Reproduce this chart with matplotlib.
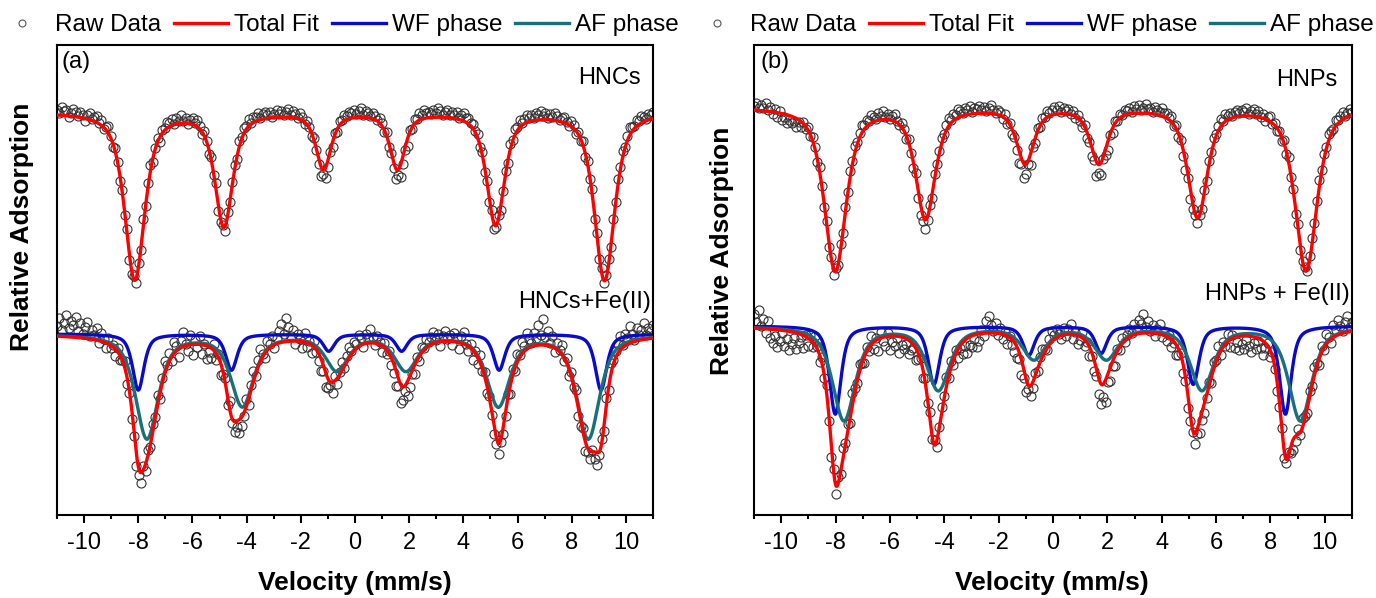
import numpy as np
import matplotlib
matplotlib.use('Agg')
import matplotlib.pyplot as plt
from matplotlib.lines import Line2D
from matplotlib.ticker import MultipleLocator

plt.rcParams['font.family'] = ['Liberation Sans', 'DejaVu Sans']
plt.rcParams['axes.unicode_minus'] = False

# ---- fitted sextet parameters (mm/s, relative depth) ----
# panel (a) HNCs
hncs_base = 1.000
hncs_pos = [-8.13, -4.84, -1.16, 1.57, 5.19, 9.21]
hncs_depth = [0.167, 0.113, 0.056, 0.056, 0.112, 0.168]
hncs_width = [0.88, 0.78, 0.66, 0.66, 0.78, 0.88]

# panel (a) HNCs + Fe(II)
hncs_fe_base = 0.778
hncs_fe_wf_pos = [-8.00, -4.56, -0.97, 1.72, 5.32, 9.08]
hncs_fe_wf_depth = [0.056, 0.036, 0.017, 0.017, 0.036, 0.056]
hncs_fe_wf_width = [0.50, 0.50, 0.50, 0.50, 0.50, 0.50]
hncs_fe_af_pos = [-7.68, -4.16, -0.67, 1.88, 5.29, 8.61]
hncs_fe_af_depth = [0.104, 0.071, 0.035, 0.035, 0.071, 0.104]
hncs_fe_af_width = [1.00, 1.00, 1.00, 1.00, 1.00, 1.00]

# panel (b) HNPs
hnps_base = 1.005
hnps_pos = [-8.01, -4.69, -1.02, 1.69, 5.32, 9.31]
hnps_depth = [0.163, 0.110, 0.055, 0.055, 0.109, 0.163]
hnps_width = [0.95, 0.85, 0.75, 0.75, 0.85, 0.95]

# panel (b) HNPs + Fe(II)
hnps_fe_base = 0.786
hnps_fe_wf_pos = [-8.01, -4.38, -0.895, 1.77, 5.16, 8.55]
hnps_fe_wf_depth = [0.088, 0.058, 0.029, 0.027, 0.058, 0.088]
hnps_fe_wf_width = [0.50, 0.50, 0.50, 0.50, 0.50, 0.50]
hnps_fe_af_pos = [-7.69, -4.22, -0.70, 1.96, 5.48, 9.10]
hnps_fe_af_depth = [0.094, 0.063, 0.032, 0.032, 0.063, 0.094]
hnps_fe_af_width = [1.00, 1.00, 1.00, 1.00, 1.00, 1.00]

# lorentzian fraction of the line shape
eta = 0.65

# ---- raw data: deviation of each channel from the fit (x 0.001, up = +) ----
hncs_resid = [
    5, 2, 8, 4, 6, -1, 3, 7, 5, 1, 6, 3, -2, 4, 7, 2,
    4, 6, 1, 5, -2, 3, 7, 2, -3, 4, 1, -4, 3, -2, 5, -5,
    -3, 4, -6, 2, -4, 5, -2, 3, 6, -3, 1, 4, -5, 3, 2, 6,
    4, 7, 1, 6, 3, 8, 2, 5, -1, 4, 6, 2, 7, 3, -2, 5,
    1, -4, 3, -2, 5, -6, -3, 2, -5, 4, -1, 3, 5, -2, 6, 2,
    5, 3, 7, 1, 6, 4, 8, 2, 5, 7, 3, 6, 1, 4, 7, 3,
    6, 2, 5, 8, 3, 7, 4, 1, 6, 3, -2, 4, 1, -3, 2, -1,
    -5, -9, -4, -11, -7, -2, -6, 1, -3, 4, 2, 6, 3, 7, 5, 8,
    4, 6, 9, 3, 7, 5, 2, 6, 4, 1, 5, 3, -2, 4, -4, -1,
    -6, -10, -5, -12, -8, -3, -7, 2, -2, 5, 3, 7, 4, 8, 5, 6,
    3, 7, 4, 9, 6, 2, 5, 8, 3, 6, 4, 7, 2, 5, 8, 4,
    6, 3, 5, 1, 4, -2, 3, -4, 2, -3, 4, -5, -2, 3, -6, -3,
    2, -4, 5, 1, 6, 3, 7, 2, 5, 8, 4, 6, 3, 7, 5, 9,
    4, 7, 2, 6, 3, 8, 5, 1, 4, 6, 2, -1, 5, 3, -3, 2,
    -2, 4, -4, 3, -1, 5, -5, 2, -3, 4, -2, 3, 6, -1, 5, 2,
    6, 3, 7, 1, 5, 8, 4, 2, 6, 3, 7, 5, 2, 6, 4, 7]
hnps_resid = [
    4, 7, 2, 6, 3, 8, 1, 5, -2, 3, -4, 2, -6, -3, -8, -5,
    -7, -4, -9, -2, -6, 1, -3, 3, -1, 4, 2, -3, 5, 1, -2, 3,
    -4, 2, -6, 3, -2, 5, -3, 4, 1, 6, 3, 7, 2, 5, 8, 4,
    6, 3, 8, 5, 2, 7, 4, 9, 3, 6, 1, 5, 7, 2, -1, 4,
    2, -3, 4, -1, -5, 3, -8, -11, -6, -9, -3, 2, -4, 5, 1, 3,
    6, 2, 5, 8, 3, 7, 4, 9, 6, 3, 7, 5, 8, 2, 6, 4,
    7, 3, 6, 2, 5, 8, 4, 1, 5, 3, -2, 4, -3, 1, -5, -2,
    -8, -13, -6, -15, -10, -4, -12, -2, -6, 3, -1, 4, 2, 6, 3, 5,
    7, 4, 8, 2, 6, 3, 5, 1, 4, -2, 3, -1, -4, 2, -6, -3,
    -9, -5, -14, -8, -12, -3, -7, -10, -2, -5, 2, -1, 4, 1, 5, 3,
    6, 2, 7, 4, 8, 3, 5, 9, 4, 6, 2, 7, 5, 3, 8, 4,
    5, 2, 6, -1, 3, -3, 1, -6, -9, -4, -11, -7, -2, -5, 1, -3,
    3, -2, 4, 1, 6, 2, 5, 8, 3, 7, 4, 6, 2, 5, 7, 3,
    6, 4, 8, 2, 5, 7, 3, 6, 1, 4, -2, 3, 5, -1, 2, -3,
    1, -4, 3, -2, 5, -1, 2, -5, 4, -3, 1, 3, -2, 4, 6, 2,
    5, 8, 3, 6, 2, 7, 4, 1, 6, 3, 5, 8, 2, 4, 7, 3]
hncs_fe_resid = [
    10, 18, 6, 14, 22, 9, 16, 12, 20, 7, 15, 4, 11, 17, 3, 9,
    5, 12, -2, 8, 3, -5, 6, -3, 2, -7, 4, -4, 1, 7, -6, -2,
    -9, -4, -12, -6, -10, 3, -8, 5, -3, 8, 2, 11, -5, 6, 14, 3,
    9, -4, 12, 5, -8, 7, 15, 2, -6, 10, -11, 4, -3, 8, -9, 1,
    -13, -5, -10, 6, -7, 3, -12, -2, 5, -8, 9, -4, -11, -6, -14, -9,
    -3, 8, -6, 5, 11, -2, 7, 13, 3, -5, 9, 4, 10, -3, 6, 12,
    18, 8, 24, 14, 5, 11, -3, 7, 2, -6, 9, -4, 3, -8, 6, -2,
    -7, -12, -5, -14, -9, -3, -11, 4, -6, 2, 8, -2, 6, 11, 3, 9,
    5, 12, 7, -3, 9, 4, 14, 6, -2, 8, 3, -6, 5, -4, 2, -7,
    -10, -16, -8, -19, -13, -6, -15, -11, -4, -9, 3, -5, 6, 2, 9, 4,
    7, 11, 3, 8, -4, 5, 10, 2, 6, -3, 9, 4, -6, 7, 12, 1,
    -5, 4, -9, 3, -6, 8, -2, 5, -7, 2, -4, -9, -6, -11, -3, -8,
    -5, 3, -9, 6, -3, 8, 2, 12, 5, 16, 9, 4, 13, 7, 20, 10,
    26, 8, 15, 3, 11, -4, 7, 2, 9, -3, 5, -7, 4, -2, 6, -9,
    -6, 3, -10, -4, -8, 2, -7, -12, -3, 5, -5, 8, -2, 11, 4, 7,
    9, 14, 3, 12, 6, 17, 8, 2, 13, 5, 10, 16, 4, 11, 7, 13]
hnps_fe_resid = [
    14, 6, 18, 3, 10, -4, 8, -9, -14, -6, -17, -11, -3, -15, -8, -19,
    -12, -6, -16, -9, -3, -13, 2, -8, 5, -5, 9, 3, -7, 6, -2, 8,
    -4, -11, 3, -8, 6, -3, 10, 2, 7, -5, 12, 4, -2, 8, 1, -6,
    5, -3, 9, -7, 2, -12, 6, -4, -9, 3, -14, -6, -10, -2, -16, -8,
    -11, -5, -14, -8, -3, -12, -6, 2, -9, 4, -4, 7, -2, 5, -7, 1,
    6, 3, 10, -2, 7, -5, 4, -9, -3, -12, -6, -15, -8, -11, -4, -13,
    -7, 4, -3, 12, 17, 8, 2, 10, -2, 6, -5, 3, -8, 1, -6, -10,
    -12, -7, -16, -9, -13, -4, -10, -6, 2, -3, 5, 8, 3, -2, 6, 11,
    4, 9, 2, -4, 7, -2, 5, 10, -5, 3, -8, -3, 6, -6, 1, -9,
    -4, -11, -7, -16, -20, -13, -22, -9, -14, -5, -10, 2, -3, 6, -1, 4,
    8, 3, 11, 5, 14, 9, 19, 6, 12, 2, 8, -3, 5, 10, -2, 4,
    -5, 3, -8, -2, -11, -6, 2, -9, -4, -13, -7, -3, -10, -5, -12, -8,
    -9, -3, 4, -6, 7, 2, 10, -4, 5, -2, 8, -7, 3, -11, -5, -14,
    -8, -13, -4, -10, -16, -6, -12, -3, -9, -14, -5, 2, -7, 4, -3, -10,
    -6, -2, -9, -4, 3, -7, -11, -5, 6, -3, 9, 2, -6, 5, -1, 8,
    3, -6, 7, -2, 10, 4, -4, 12, 6, 15, 8, 2, 11, 16, 5, 9]

red = '#FF0000'
blue = '#0A0ACC'
teal = '#17707C'


def sextet(v, pos, depth, width):
    # sum of six pseudo-Voigt absorption lines
    out = np.zeros_like(v)
    for p, d, w in zip(pos, depth, width):
        z = (v - p) / (w / 2.0)
        lor = 1.0 / (1.0 + z ** 2)
        gau = np.exp(-np.log(2) * z ** 2)
        out += d * (eta * lor + (1 - eta) * gau)
    return out


v_fit = np.linspace(-11, 11, 1200)

fig = plt.figure(figsize=(13.76, 5.98), dpi=100)
ax_a = fig.add_axes([57 / 1376, 83 / 598, 596 / 1376, 470 / 598])
ax_b = fig.add_axes([754 / 1376, 83 / 598, 598 / 1376, 470 / 598])

panels = [
    (ax_a, hncs_base, (hncs_pos, hncs_depth, hncs_width), hncs_resid,
     hncs_fe_base, (hncs_fe_wf_pos, hncs_fe_wf_depth, hncs_fe_wf_width),
     (hncs_fe_af_pos, hncs_fe_af_depth, hncs_fe_af_width), hncs_fe_resid),
    (ax_b, hnps_base, (hnps_pos, hnps_depth, hnps_width), hnps_resid,
     hnps_fe_base, (hnps_fe_wf_pos, hnps_fe_wf_depth, hnps_fe_wf_width),
     (hnps_fe_af_pos, hnps_fe_af_depth, hnps_fe_af_width), hnps_fe_resid),
]

for ax, b1, p1, r1, b2, wf, af, r2 in panels:
    # upper spectrum (single sextet)
    v_raw = np.linspace(-11, 11, len(r1))
    raw1 = b1 - sextet(v_raw, *p1) + np.array(r1) / 1000.0
    ax.plot(v_raw, raw1, 'o', mfc='none', mec='#333333', mew=0.8, ms=6.5, zorder=1)
    ax.plot(v_fit, b1 - sextet(v_fit, *p1), color=red, lw=2.4, zorder=4)

    # lower spectrum (WF + AF)
    v_raw = np.linspace(-11, 11, len(r2))
    raw2 = b2 - sextet(v_raw, *wf) - sextet(v_raw, *af) + np.array(r2) / 1000.0
    ax.plot(v_raw, raw2, 'o', mfc='none', mec='#333333', mew=0.8, ms=6.5, zorder=1)
    wf_fit = sextet(v_fit, *wf)
    af_fit = sextet(v_fit, *af)
    ax.plot(v_fit, b2 - wf_fit, color=blue, lw=2.4, zorder=2)
    ax.plot(v_fit, b2 - af_fit, color=teal, lw=2.4, zorder=3)
    ax.plot(v_fit, b2 - wf_fit - af_fit, color=red, lw=2.4, zorder=4)

    ax.set_xlim(-11, 11)
    ax.set_ylim(0.597, 1.067)
    ax.xaxis.set_major_locator(MultipleLocator(2))
    ax.xaxis.set_minor_locator(MultipleLocator(1))
    ax.set_yticks([])
    ax.tick_params(axis='x', which='major', direction='out', length=5.5, width=1.5,
                   labelsize=17, pad=7, top=False)
    ax.tick_params(axis='x', which='minor', direction='out', length=3, width=1.5, top=False)
    for s in ax.spines.values():
        s.set_linewidth(1.5)

# annotations
ax_a.text(0.032, 0.964, '(a)', transform=ax_a.transAxes, ha='center', va='center', fontsize=17)
ax_a.text(0.980, 0.930, 'HNCs', transform=ax_a.transAxes, ha='right', va='center', fontsize=17)
ax_a.text(0.9966, 0.453, 'HNCs+Fe(II)', transform=ax_a.transAxes, ha='right', va='center', fontsize=17)
ax_b.text(0.035, 0.964, '(b)', transform=ax_b.transAxes, ha='center', va='center', fontsize=17)
ax_b.text(0.975, 0.926, 'HNPs', transform=ax_b.transAxes, ha='right', va='center', fontsize=17)
ax_b.text(0.9967, 0.470, 'HNPs + Fe(II)', transform=ax_b.transAxes, ha='right', va='center', fontsize=17)

# axis labels
for xc, yc in [(22, 227), (722, 251)]:
    fig.text(xc / 1376, 1 - yc / 598, 'Relative Adsorption', rotation=90, ha='center',
             va='center', fontsize=19, fontweight='bold')
for xc in [355, 1052]:
    fig.text(xc / 1376, 1 - 583 / 598, 'Velocity (mm/s)', ha='center', va='center',
             fontsize=19, fontweight='bold')

# legends above each panel
handles = [Line2D([], [], marker='o', ls='none', mfc='none', mec='#555555', mew=0.8, ms=5),
           Line2D([], [], color=red, lw=2.4),
           Line2D([], [], color=blue, lw=2.4),
           Line2D([], [], color=teal, lw=2.4)]
labels = ['Raw Data', 'Total Fit', 'WF phase', 'AF phase']
for xc in [337, 1032]:
    fig.legend(handles, labels, loc='center', bbox_to_anchor=(xc / 1376, 1 - 25 / 598),
               ncol=4, frameon=False, fontsize=17.5, handlelength=2.2, handletextpad=0.25,
               columnspacing=0.55, borderaxespad=0, borderpad=0)

fig.savefig('out.png', dpi=100)
